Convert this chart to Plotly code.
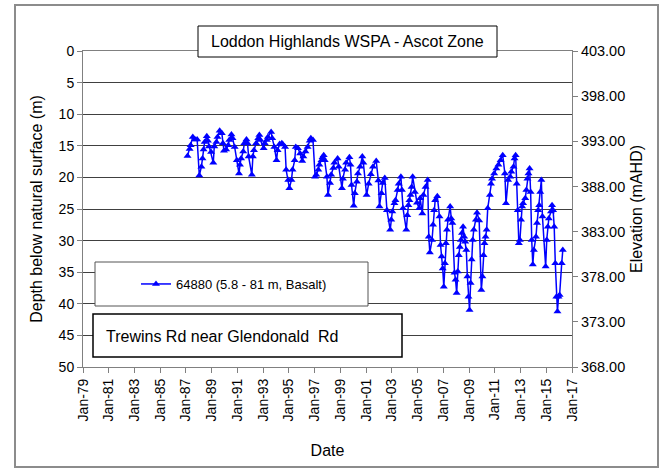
import plotly.graph_objects as go

# ---- data ----
dates = [
    "1987-02", "1987-04", "1987-05", "1987-07", "1987-09", "1987-11",
    "1988-01", "1988-03", "1988-04", "1988-05", "1988-06", "1988-08", "1988-09", "1988-10", "1988-12",
    "1989-02", "1989-03", "1989-05", "1989-06", "1989-08", "1989-10", "1989-11", "1989-12",
    "1990-02", "1990-04", "1990-05", "1990-07", "1990-08", "1990-10", "1990-12",
    "1991-02", "1991-03", "1991-04", "1991-06", "1991-07", "1991-09", "1991-10", "1991-11",
    "1992-02", "1992-03", "1992-04", "1992-06", "1992-08", "1992-09", "1992-10",
    "1993-01", "1993-02", "1993-04", "1993-05", "1993-08", "1993-09", "1993-11",
    "1994-01", "1994-02", "1994-04", "1994-06", "1994-07", "1994-09", "1994-10", "1994-12",
    "1995-01", "1995-03", "1995-04", "1995-06", "1995-07", "1995-09", "1995-11",
    "1996-01", "1996-02", "1996-04", "1996-06", "1996-08", "1996-09", "1996-11",
    "1997-01", "1997-02", "1997-04", "1997-05", "1997-07", "1997-08", "1997-09", "1997-10", "1997-12",
    "1998-01", "1998-03", "1998-04", "1998-06", "1998-07", "1998-10", "1998-11",
    "1999-02", "1999-03", "1999-05", "1999-06", "1999-09", "1999-10", "1999-11",
    "2000-01", "2000-02", "2000-04", "2000-05", "2000-07", "2000-09", "2000-10",
    "2001-01", "2001-03", "2001-05", "2001-07", "2001-10", "2001-12",
    "2002-01", "2002-03", "2002-04", "2002-06", "2002-08", "2002-11", "2002-12",
    "2003-01", "2003-03", "2003-04", "2003-06", "2003-07", "2003-09", "2003-10", "2003-11",
    "2004-02", "2004-03", "2004-04", "2004-05", "2004-06", "2004-07", "2004-08", "2004-10", "2004-12",
    "2005-02", "2005-03", "2005-05", "2005-06", "2005-08", "2005-10", "2005-11", "2005-12",
    "2006-02", "2006-03", "2006-04", "2006-05", "2006-07", "2006-09", "2006-10", "2006-11", "2006-12",
    "2007-01", "2007-02", "2007-03", "2007-04", "2007-05", "2007-07", "2007-08", "2007-09", "2007-11", "2007-12",
    "2008-01", "2008-02", "2008-03", "2008-04", "2008-05", "2008-06", "2008-07", "2008-08", "2008-09",
    "2008-10", "2008-11", "2008-12",
    "2009-01", "2009-02", "2009-03", "2009-04", "2009-05", "2009-07", "2009-08", "2009-10", "2009-12",
    "2010-01", "2010-02", "2010-03", "2010-04", "2010-05", "2010-06", "2010-08", "2010-09", "2010-10", "2010-12",
    "2011-02", "2011-04", "2011-06", "2011-08", "2011-10", "2011-11",
    "2012-01", "2012-03", "2012-04", "2012-06", "2012-07", "2012-08", "2012-09", "2012-10", "2012-11", "2012-12",
    "2013-01", "2013-02", "2013-03", "2013-05", "2013-06", "2013-07", "2013-08", "2013-09", "2013-10", "2013-11", "2013-12",
    "2014-01", "2014-03", "2014-04", "2014-05", "2014-06", "2014-07", "2014-08", "2014-09", "2014-12",
    "2015-01", "2015-02", "2015-03", "2015-05", "2015-06", "2015-07", "2015-08", "2015-09", "2015-10", "2015-11", "2015-12",
    "2016-01", "2016-03", "2016-04",
]
depth_m = [
    16.6, 15.5, 14.9, 13.6, 14.0, 14.0,
    19.7, 18.3, 17.0, 15.6, 14.4, 13.5, 14.2, 15.1, 16.0,
    17.7, 15.1, 14.4, 13.6, 12.6, 13.0, 14.6, 15.8,
    15.6, 14.9, 14.1, 13.2, 13.8, 15.2, 17.3,
    19.4, 18.0, 17.0, 15.9, 14.6, 14.0, 14.6, 16.7,
    19.6, 16.7, 15.7, 14.6, 13.8, 13.3, 14.1,
    15.4, 14.6, 14.1, 13.6, 12.8, 13.8, 15.2,
    17.3, 15.7, 14.7, 14.6, 14.8, 15.2, 18.8, 20.4,
    21.7, 20.4, 18.8, 17.3, 15.2, 15.4, 16.2,
    17.4, 16.7, 15.9, 15.2, 14.2, 13.8, 14.1,
    19.9, 19.6, 18.8, 18.0, 17.3, 16.8, 16.5, 17.3, 19.9,
    22.8, 20.9, 19.6, 18.5, 17.7, 17.0, 18.3,
    21.7, 20.2, 18.8, 17.7, 16.8, 18.0, 21.2,
    24.5, 22.5, 20.7, 19.4, 18.3, 16.7, 17.7,
    22.8, 21.0, 19.5, 18.3, 17.4, 20.5,
    24.6, 22.5, 20.9, 20.1, 25.2, 28.3, 26.7,
    25.4, 24.1, 23.6, 22.0, 21.0, 19.9, 22.0, 24.9,
    28.3, 26.0, 24.4, 23.6, 22.8, 21.5, 19.9, 22.3, 24.0,
    24.9, 23.3, 25.7, 22.8, 21.5, 20.4, 29.4, 31.9,
    29.9, 27.5, 25.2, 23.6, 23.0, 26.2, 30.7, 32.5, 34.4,
    37.3, 33.6, 30.4, 28.3, 26.7, 24.6, 26.5, 27.2, 35.1, 36.2,
    38.3, 34.9, 32.3, 31.0, 29.9, 28.8, 27.8, 29.4, 30.2,
    31.5, 35.7, 38.9,
    41.0, 36.7, 33.0, 29.9, 28.3, 26.7, 25.6, 26.8, 37.8,
    35.7, 32.3, 30.4, 29.4, 28.3, 24.9, 22.8, 21.0, 20.2, 19.4,
    18.6, 18.0, 17.3, 16.5, 19.4, 24.1,
    20.4, 19.9, 19.1, 18.3, 17.0, 16.5, 21.0, 25.2, 30.4, 29.9,
    26.7, 24.6, 24.1, 23.3, 22.0, 20.2, 19.4, 18.6, 22.3, 29.9, 33.8,
    31.5, 29.4, 27.2, 25.2, 24.4, 22.3, 20.4, 26.2, 34.1,
    29.9, 27.8, 26.5, 25.4, 24.4, 25.2, 27.8, 33.6, 38.9, 41.2, 38.9,
    38.6, 33.6, 31.5,
]
series_name = "64880 (5.8 - 81 m, Basalt)"
chart_title = "Loddon Highlands WSPA - Ascot Zone"
site_label = "Trewins Rd near Glendonald  Rd"
x_range = ["1979-01-01", "2017-01-01"]
depth_range = [50, 0]
elev_range = [368, 403]

FONT = "Arial, Liberation Sans, sans-serif"

# plot-area geometry in pixels (for placing boxes)
W, H = 662, 470
L, R, T, B = 83, 90, 51, 103
PW, PH = W - L - R, H - T - B


def fx(px):
    return (px - L) / PW


def fy(py):
    return 1 - (py - T) / PH


fig = go.Figure()
fig.add_trace(go.Scatter(
    x=[d + "-15" for d in dates], y=depth_m,
    mode="lines+markers", name=series_name,
    line=dict(color="#0000FF", width=1.5),
    marker=dict(symbol="triangle-up", size=7, color="#0000FF"),
))
# empty trace that only activates the right-hand elevation axis
fig.add_trace(go.Scatter(x=[None], y=[None], yaxis="y2", mode="lines",
                         showlegend=False, hoverinfo="skip"))

fig.update_layout(
    width=W, height=H,
    margin=dict(l=L, r=R, t=T, b=B, pad=0, autoexpand=False),
    paper_bgcolor="white", plot_bgcolor="white",
    font=dict(family=FONT, color="#000000", size=13),
    showlegend=True,
    legend=dict(x=fx(136), y=fy(284), xanchor="left", yanchor="middle",
                bgcolor="rgba(0,0,0,0)", borderwidth=0,
                font=dict(size=13, family=FONT)),
    xaxis=dict(
        type="date", range=x_range, tick0="1979-01-01", dtick="M24",
        tickformat="%b-%y", tickangle=-90, ticks="outside", ticklen=5,
        tickcolor="#808080", showline=True, linecolor="#808080", linewidth=1,
        mirror=True, showgrid=False, zeroline=False, automargin=False,
        tickfont=dict(size=14),
        title=dict(text="Date", font=dict(size=16), standoff=24),
    ),
    yaxis=dict(
        range=depth_range, tick0=0, dtick=5, ticks="outside", ticklen=5,
        tickcolor="#808080", showline=True, linecolor="#808080", linewidth=1,
        showgrid=True, gridcolor="#404040", gridwidth=1, zeroline=False, automargin=False,
        tickfont=dict(size=14),
        title=dict(text="Depth below natural surface (m)", font=dict(size=16), standoff=12),
    ),
    yaxis2=dict(
        overlaying="y", side="right", range=elev_range, tick0=368, dtick=5,
        tickformat=".2f", ticks="outside", ticklen=5, tickcolor="#808080",
        showline=True, linecolor="#808080", linewidth=1, automargin=False,
        showgrid=False, zeroline=False, tickfont=dict(size=14.5),
        title=dict(text="Elevation (mAHD)", font=dict(size=16), standoff=6),
    ),
    shapes=[
        # outer chart frame
        dict(type="rect", xref="paper", yref="paper", x0=fx(15), x1=fx(658), y0=fy(467), y1=fy(5),
             line=dict(color="#8c8c8c", width=2), fillcolor="rgba(0,0,0,0)", layer="below"),
        # title box
        dict(type="rect", xref="paper", yref="paper", x0=fx(198), x1=fx(497), y0=fy(57), y1=fy(26),
             line=dict(color="#000000", width=1), fillcolor="white", layer="above"),
        # legend box
        dict(type="rect", xref="paper", yref="paper", x0=fx(95), x1=fx(368), y0=fy(306), y1=fy(262),
             line=dict(color="#555555", width=1), fillcolor="white", layer="above"),
        # site label box
        dict(type="rect", xref="paper", yref="paper", x0=fx(93), x1=fx(402), y0=fy(357), y1=fy(314),
             line=dict(color="#000000", width=1.5), fillcolor="white", layer="above"),
    ],
    annotations=[
        dict(text=chart_title, xref="paper", yref="paper", x=fx(347.5), y=fy(41.5),
             xanchor="center", yanchor="middle", showarrow=False, font=dict(size=16)),
        dict(text=site_label, xref="paper", yref="paper", x=fx(104), y=fy(336),
             xanchor="left", yanchor="middle", showarrow=False, font=dict(size=16)),
    ],
)

fig.write_html("out.html", config={"displayModeBar": False},
               post_script="document.body.style.margin='0';")
